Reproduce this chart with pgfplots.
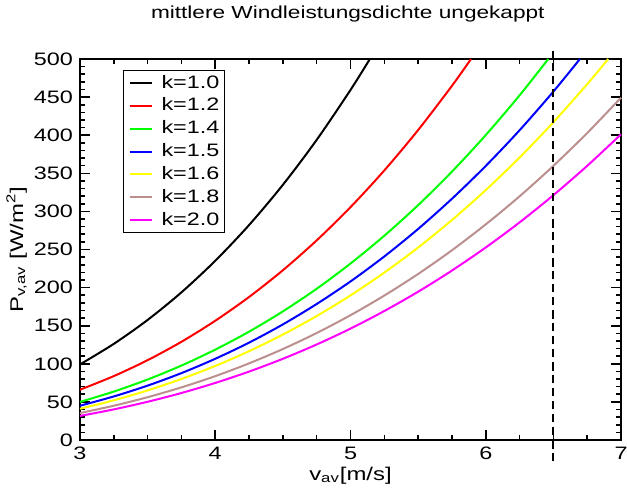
\documentclass[border=0pt]{standalone}
\usepackage{fontspec}
\setmainfont{Liberation Sans}[FakeStretch=1.3]
\usepackage{pgfplots}
\pgfplotsset{compat=1.18}
\definecolor{kred}{HTML}{FF0000}
\definecolor{kgreen}{HTML}{00FF00}
\definecolor{kblue}{HTML}{0000FF}
\definecolor{kyellow}{HTML}{FFFF00}
\definecolor{kbrown}{HTML}{BC8F8F}
\definecolor{kmag}{HTML}{FF00FF}
\newcommand{\tickfont}{\fontsize{9}{11}\selectfont}
\newcommand{\labelfont}{\fontsize{9.2}{11}\selectfont}

\begin{document}
\begin{tikzpicture}[font=\tickfont]
\begin{axis}[
    name=ax,
    width=270.5pt, height=190.5pt,
    scale only axis,
    xmin=3, xmax=7, ymin=0, ymax=500,
    xtick={3,4,5,6,7},
    minor x tick num=3,
    ytick={0,50,...,500},
    minor y tick num=4,
    tick align=inside,
    major tick length=5pt,
    minor tick length=2.5pt,
    axis line style={line width=1pt},
    every tick/.style={black, line width=0.8pt},
    /pgf/number format/assume math mode=true,
    tick label style={font=\tickfont},
    label style={font=\labelfont},
    clip=false,
    title={mittlere Windleistungsdichte ungekappt},
    title style={at={(0.495,1)}, anchor=south, yshift=9pt, font=\fontsize{8.7}{10}\selectfont},
    xlabel={v\textsubscript{av}[m/s]},
    xlabel style={at={(0.5,0)}, anchor=base, yshift=-20pt},
    ylabel={P\textsubscript{v,av} [W/m\textsuperscript{2}]},
    ylabel style={at={(rel axis cs:0,0.5)}, anchor=base, yshift=28.5pt},
    legend cell align=left,
    legend style={at={(0.0795,0.971)}, anchor=north west, draw=black, line width=0.5pt,
        inner xsep=2.5pt, inner ysep=2.2pt, row sep=3.4pt, font=\tickfont,
        nodes={inner sep=0pt},
        /tikz/every odd column/.append style={column sep=4.5pt}},
    legend image code/.code={\draw[#1] (0pt,0pt) -- (11pt,0pt);},
    every axis plot/.append style={line width=1pt, smooth},
]
\addplot[black] coordinates {(3,99.2) (3.25,126.2) (3.5,157.6) (3.75,193.8) (4,235.2) (4.25,282.1) (4.5,334.9) (4.75,393.9) (5,459.4) (5.143,500)};
\addlegendentry{k=1.0}
\addplot[kred] coordinates {(3,66.0) (3.25,83.9) (3.5,104.8) (3.75,128.9) (4,156.5) (4.25,187.7) (4.5,222.8) (4.75,262.0) (5,305.6) (5.25,353.8) (5.5,406.8) (5.75,464.8) (5.891,500)};
\addlegendentry{k=1.2}
\addplot[kgreen] coordinates {(3,50.0) (3.25,63.6) (3.5,79.4) (3.75,97.7) (4,118.6) (4.25,142.2) (4.5,168.8) (4.75,198.5) (5,231.6) (5.25,268.1) (5.5,308.2) (5.75,352.2) (6,400.2) (6.25,452.3) (6.462,500)};
\addlegendentry{k=1.4}
\addplot[kblue] coordinates {(3,45.0) (3.25,57.2) (3.5,71.4) (3.75,87.8) (4,106.6) (4.25,127.8) (4.5,151.7) (4.75,178.5) (5,208.1) (5.25,240.9) (5.5,277.0) (5.75,316.6) (6,359.7) (6.25,406.5) (6.5,457.3) (6.696,500)};
\addlegendentry{k=1.5}
\addplot[kyellow] coordinates {(3,41.0) (3.25,52.1) (3.5,65.1) (3.75,80.1) (4,97.2) (4.25,116.6) (4.5,138.4) (4.75,162.7) (5,189.8) (5.25,219.7) (5.5,252.6) (5.75,288.7) (6,328.0) (6.25,370.7) (6.5,417.0) (6.75,467.0) (6.905,500)};
\addlegendentry{k=1.6}
\addplot[kbrown] coordinates {(3,35.4) (3.25,45.0) (3.5,56.2) (3.75,69.1) (4,83.8) (4.25,100.6) (4.5,119.4) (4.75,140.4) (5,163.8) (5.25,189.6) (5.5,217.9) (5.75,249.0) (6,283.0) (6.25,319.8) (6.5,359.8) (6.75,402.9) (7,449.3)};
\addlegendentry{k=1.8}
\addplot[kmag] coordinates {(3,31.6) (3.25,40.2) (3.5,50.2) (3.75,61.7) (4,74.9) (4.25,89.8) (4.5,106.6) (4.75,125.4) (5,146.2) (5.25,169.3) (5.5,194.6) (5.75,222.4) (6,252.7) (6.25,285.6) (6.5,321.3) (6.75,359.8) (7,401.2)};
\addlegendentry{k=2.0}
\addplot[black, line width=0.9pt, dash pattern=on 4pt off 2.5pt, forget plot] coordinates {(6.5,-28) (6.5,511)};
\end{axis}
\pgfresetboundingbox
\path (ax.south west) ++(-40pt,-27pt) coordinate (bl);
\path (ax.north east) ++(3pt,29.5pt) coordinate (tr);
\path (bl) rectangle (tr);
\end{tikzpicture}
\end{document}
